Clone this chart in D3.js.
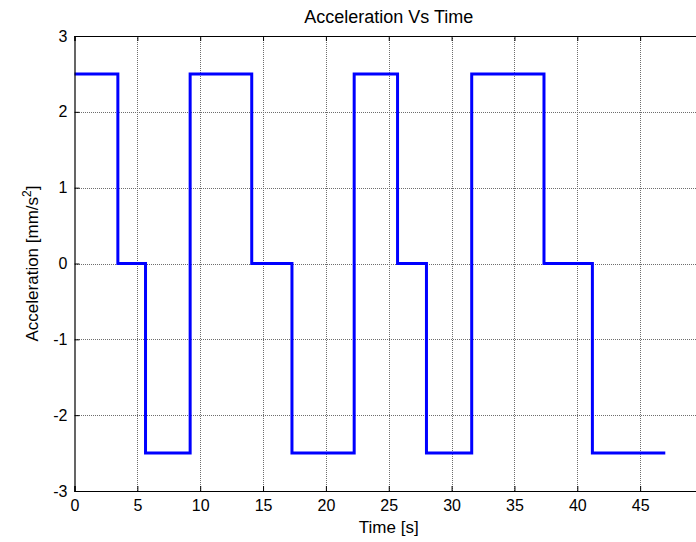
<!DOCTYPE html>
<html lang="en">
<head>
<meta charset="UTF-8">
<title>Acceleration Vs Time</title>
<script src="https://d3js.org/d3.v7.min.js"></script>
<style>
  html, body { margin: 0; padding: 0; background: #fff; }
  svg { display: block; font-family: 'Liberation Sans', Arial, sans-serif; }
  .grid line { stroke: #6e6e6e; stroke-width: 1; stroke-dasharray: 1,1; }
</style>
</head>
<body>
<div id="chart"></div>
<script>
// --- Data ---
const times  = [0, 3.45, 5.65, 9.2, 14.1, 17.3, 22.25, 25.7, 28.0, 31.6, 37.35, 41.2, 47];
const accels = [2.5, 0, -2.5, 2.5, 0, -2.5, 2.5, 0, -2.5, 2.5, 0, -2.5, -2.5];
const xTicks = [0, 5, 10, 15, 20, 25, 30, 35, 40, 45, 50];
const yTicks = [-3, -2, -1, 0, 1, 2, 3];

const width = 696, height = 542;
const m = { left: 74.5, right: 703, top: 36, bottom: 491 };

const svg = d3.select("#chart").append("svg")
    .attr("width", width)
    .attr("height", height);

const x = d3.scaleLinear().domain([0, 50]).range([m.left, m.right]);
const y = d3.scaleLinear().domain([-3, 3]).range([m.bottom, m.top]);

// grid (dotted, like MATLAB's grid on)
const grid = svg.append("g").attr("class", "grid");
grid.selectAll("line.v")
    .data(xTicks.filter(d => d > 0 && d < 50))
    .join("line")
    .attr("x1", d => Math.round(x(d)) + 0.5).attr("x2", d => Math.round(x(d)) + 0.5)
    .attr("y1", m.top).attr("y2", m.bottom);
grid.selectAll("line.h")
    .data(yTicks.filter(d => d > -3 && d < 3))
    .join("line")
    .attr("y1", d => Math.round(y(d)) + 0.5).attr("y2", d => Math.round(y(d)) + 0.5)
    .attr("x1", Math.round(m.left)).attr("x2", Math.round(m.right));

// the signal
const line = d3.line()
    .x((d, i) => x(times[i]))
    .y(d => y(d))
    .curve(d3.curveStepAfter);

svg.append("path")
    .datum(accels)
    .attr("d", line)
    .attr("fill", "none")
    .attr("stroke", "#0000ff")
    .attr("stroke-width", 3);

// axes: ticks inside, full box
const fmt = d => String(d);   // plain hyphen for negatives
const xAxis = svg.append("g")
    .attr("transform", `translate(0,${m.bottom})`)
    .call(d3.axisBottom(x).tickValues(xTicks).tickSize(-5).tickPadding(9).tickFormat(fmt));
const xAxisTop = svg.append("g")
    .attr("transform", `translate(0,${m.top})`)
    .call(d3.axisTop(x).tickValues(xTicks).tickSize(-5).tickFormat(""));
const yAxis = svg.append("g")
    .attr("transform", `translate(${m.left},0)`)
    .call(d3.axisLeft(y).tickValues(yTicks).tickSize(-5).tickPadding(7).tickFormat(fmt));
const yAxisRight = svg.append("g")
    .attr("transform", `translate(${m.right},0)`)
    .call(d3.axisRight(y).tickValues(yTicks).tickSize(-5).tickFormat(""));

[xAxis, xAxisTop, yAxis, yAxisRight].forEach(g => {
    g.select(".domain").attr("stroke", "#000").attr("stroke-width", 1.2);
    g.selectAll(".tick line").attr("stroke", "#000");
    g.selectAll("text")
        .attr("fill", "#000")
        .style("font-size", "16px")
        .style("font-family", "'Liberation Sans', Arial, sans-serif");
});
xAxis.select(".tick:last-of-type text").remove();

// title and labels
svg.append("text")
    .attr("x", (m.left + m.right) / 2)
    .attr("y", 23)
    .attr("text-anchor", "middle")
    .style("font-size", "18px")
    .text("Acceleration Vs Time");

svg.append("text")
    .attr("x", (m.left + m.right) / 2)
    .attr("y", 533)
    .attr("text-anchor", "middle")
    .style("font-size", "17px")
    .text("Time [s]");

const ylab = svg.append("text")
    .attr("transform", `translate(38,${(m.top + m.bottom) / 2}) rotate(-90)`)
    .attr("text-anchor", "middle")
    .style("font-size", "17px");
ylab.append("tspan").text("Acceleration [mm/s");
ylab.append("tspan").attr("dy", -7).style("font-size", "12px").text("2");
ylab.append("tspan").attr("dy", 7).text("]");
</script>
</body>
</html>
